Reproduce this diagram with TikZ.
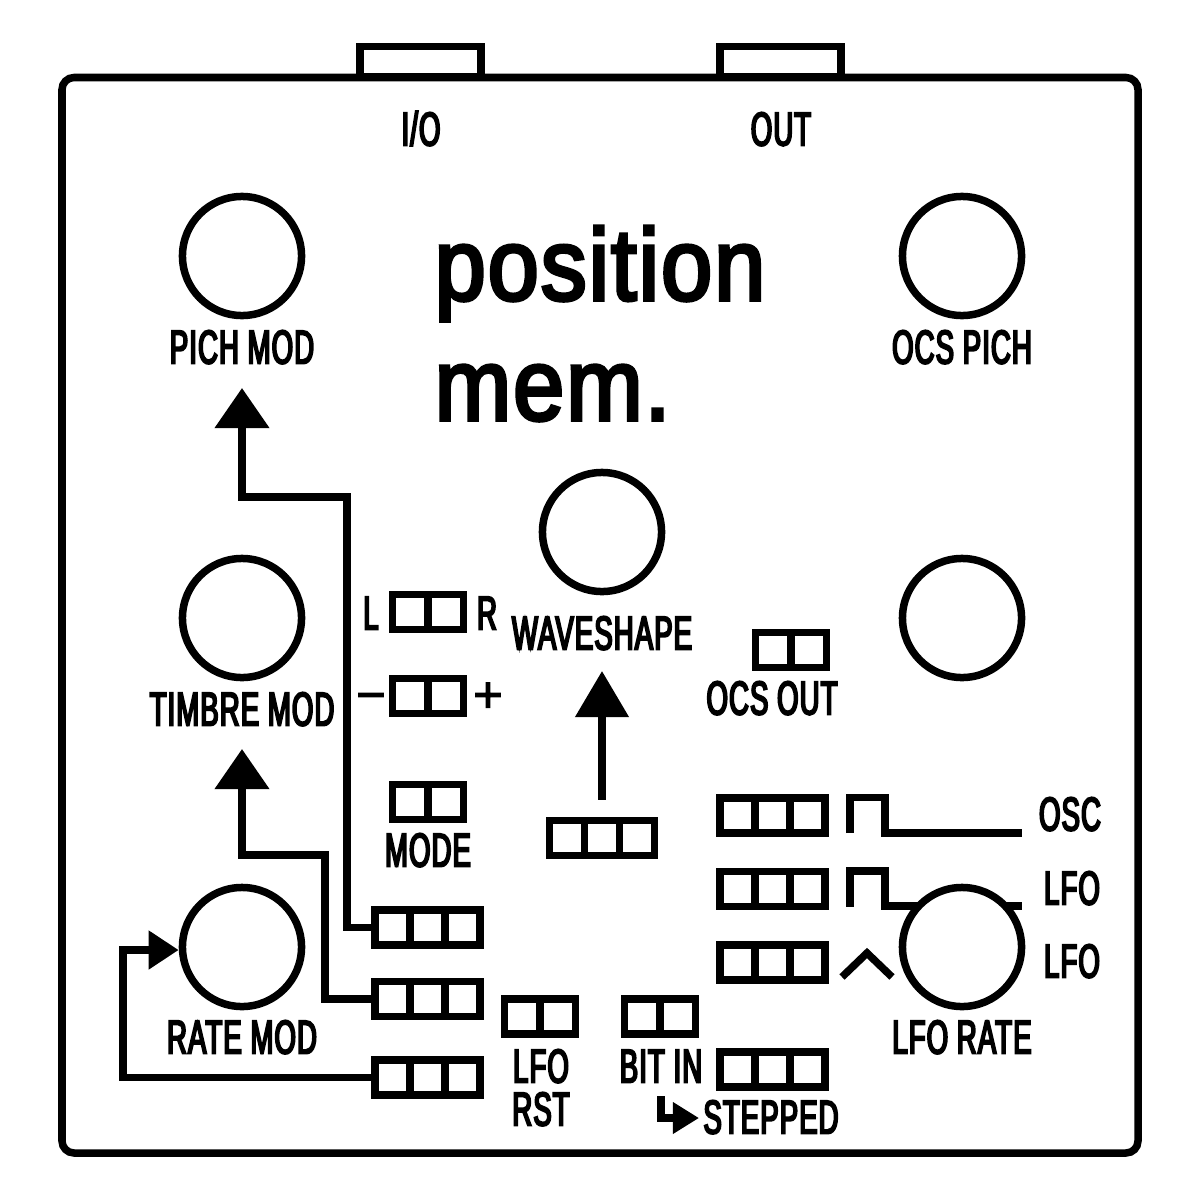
\documentclass[tikz,border=0pt]{standalone}
\usepackage{fontspec}
\setmainfont[FakeStretch=.58,FakeBold=4,LetterSpace=2.3]{Liberation Sans}
\newfontfamily\titlefont[FakeBold=3.5,FakeStretch=.9,LetterSpace=2]{Liberation Sans}
\newfontfamily\signfont[FakeBold=2]{Liberation Sans}
\usetikzlibrary{arrows.meta}
\tikzset{>=latex,
  wire/.style={line width=.075cm,miter limit=10},
  knob/.style={draw,circle,fill=white,line width=.075cm,minimum size=1.19cm,inner sep=0pt},
  swtwo/.style={draw,rectangle,fill=white,line width=.075cm,minimum width=.71cm,minimum height=.35cm,inner sep=0pt,
    path picture={\draw[line width=.075cm] (path picture bounding box.north) -- (path picture bounding box.south);}},
  swthree/.style={draw,rectangle,fill=white,line width=.075cm,minimum width=1.05cm,minimum height=.35cm,inner sep=0pt,
    path picture={\draw[line width=.075cm] ([xshift=-.175cm]path picture bounding box.north) -- ([xshift=-.175cm]path picture bounding box.south);
      \draw[line width=.075cm] ([xshift=.175cm]path picture bounding box.north) -- ([xshift=.175cm]path picture bounding box.south);}},
  lab/.style={anchor=base,inner sep=0pt,yshift=.015cm,font=\fontsize{13.5}{14}\selectfont},
  sign/.style={anchor=base,inner sep=0pt,font=\signfont\fontsize{14.5}{16}\selectfont},
  title/.style={anchor=base west,inner sep=0pt,font=\titlefont\fontsize{29}{30}\selectfont},
  bigtip/.style={-{Triangle[length=.4cm,width=.53cm]}}
}

\begin{document}
\begin{tikzpicture}[x=.01cm,y=-.01cm]
    \useasboundingbox (0,0) rectangle (1200,1200);
    % panel and jacks
    \draw[wire,rounded corners=.12cm] (62,77.5) rectangle (1138,1153);
    \draw[wire] (360,77) rectangle (481,46.5);
    \draw[wire] (720,77) rectangle (841,46.5);
    % waveforms
    \draw[wire] (850,833) |- (885,797.5) |- (1022,833);
    \draw[wire] (850,906.5) |- (885,871) |- (1022,906);
    \draw[wire] (842,977) -- (867,953) -- (892,977);
    % knobs
    \node[knob] (pichknob) at (242,256) {};
    \node[knob] (pitchknob) at (962,256) {};
    \node[knob] (timbreknob) at (242,618) {};
    \node[knob] (blankknob) at (962,618) {};
    \node[knob] (waveknob) at (602,532) {};
    \node[knob] (rateknob) at (242,947) {};
    \node[knob] (lforateknob) at (962,947) {};
    % switches
    \node[swtwo] (lrsw) at (428,612) {};
    \node[swtwo] (polsw) at (428,696) {};
    \node[swtwo] (modesw) at (428,802) {};
    \node[swtwo] (oscoutsw) at (791,650) {};
    \node[swtwo] (rstsw) at (540,1016.5) {};
    \node[swtwo] (bitsw) at (660,1016.5) {};
    \node[swthree] (wavesw) at (602,838) {};
    \node[swthree] (oscsw) at (772.5,815.5) {};
    \node[swthree] (lfoasw) at (772.5,889) {};
    \node[swthree] (lfobsw) at (772.5,962.5) {};
    \node[swthree] (steppedsw) at (772.5,1069.5) {};
    \node[swthree] (pichsw) at (427.5,927.5) {};
    \node[swthree] (timbresw) at (427.5,999) {};
    \node[swthree] (ratesw) at (427.5,1077.5) {};
    % labels
    \node[lab] (io) at (421,147) {I/O};
    \node[lab] (out) at (781,147) {OUT};
    \node[lab] (pichlab) at (242,365) {PICH MOD};
    \node[lab] (ocslab) at (962,365) {OCS PICH};
    \node[lab] (timbrelab) at (242,727) {TIMBRE MOD};
    \node[lab] (wavelab) at (602,651) {WAVESHAPE};
    \node[lab] (llab) at (371,631) {L};
    \node[lab] (rlab) at (487,631) {R};
    \node[sign] (minus) at (371,712) {−};
    \node[sign] (plus) at (488,712) {+};
    \node[lab] (ocsout) at (772,716) {OCS OUT};
    \node[lab] (modelab) at (428,868) {MODE};
    \node[lab] (ratelab) at (242,1055) {RATE MOD};
    \node[lab] (lforate) at (962,1055) {LFO RATE};
    \node[lab] (osclab) at (1070,832) {OSC};
    \node[lab] (lfoa) at (1072,906) {LFO};
    \node[lab] (lfob) at (1072,979) {LFO};
    \node[lab] (lfolab) at (541,1084) {LFO};
    \node[lab] (rstlab) at (541,1127) {RST};
    \node[lab] (bitlab) at (661,1084) {BIT IN};
    \node[lab] (steppedlab) at (771,1135) {STEPPED};
    \node[title] (name) at (434,300) {position};
    \node[title] (mem) at (434,420) {mem.};
    % signal arrows
    \coordinate (pichtip) at (242,388);
    \coordinate (timbretip) at (242,749);
    \coordinate (wavetip) at (602,671);
    \coordinate (stepstart) at (661,1096);
    \coordinate (steptip) at (699,1118);
    \draw[wire,bigtip] (pichsw.west) -| (347,497) -| (pichtip);
    \draw[wire,bigtip] (timbresw.west) -| (325,855) -| (timbretip);
    \draw[wire,-{Triangle[length=.3cm,width=.37cm]}] (ratesw.west) -| (123,950) -- (rateknob.west |- 0,950);
    \draw[wire,shorten <=.17cm,-{Triangle[length=.46cm,width=.52cm]}] (wavesw.north) -- (wavetip);
    \draw[wire,-{Triangle[length=.26cm,width=.3cm]}] (stepstart) |- (steptip);
\end{tikzpicture}
\end{document}
